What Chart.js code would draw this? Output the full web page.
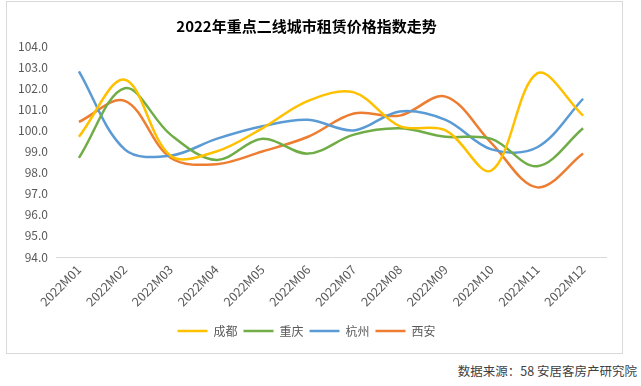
<!DOCTYPE html>
<html>
<head>
    <title>2022年重点二线城市租赁价格指数走势</title>
    <script src="https://cdn.jsdelivr.net/npm/chart.js"></script>
    <style>
        body { margin: 0; background: #fff; font-family: "Noto Sans CJK SC", sans-serif; }
        #frame { position: absolute; left: 6px; top: 1px; width: 615px; height: 351px; border: 1px solid #d9d9d9; }
        #source { position: absolute; right: 4px; top: 361px; font-size: 12.5px; color: #404040; }
    </style>
</head>
<body>
    <div id="frame"><canvas id="rentChart"></canvas></div>
    <div id="source">数据来源：58 安居客房产研究院</div>

    <script>
        const months = ['2022M01', '2022M02', '2022M03', '2022M04', '2022M05', '2022M06',
                        '2022M07', '2022M08', '2022M09', '2022M10', '2022M11', '2022M12'];
        const chengdu   = [99.7, 102.4, 98.8, 99.0, 100.1, 101.4, 101.8, 100.2, 100.0, 98.1, 102.7, 100.7];
        const chongqing = [98.7, 102.0, 99.8, 98.6, 99.6, 98.9, 99.8, 100.1, 99.7, 99.6, 98.3, 100.1];
        const hangzhou  = [102.8, 99.1, 98.8, 99.6, 100.2, 100.5, 100.0, 100.9, 100.5, 99.1, 99.2, 101.5];
        const xian      = [100.4, 101.4, 98.7, 98.4, 99.0, 99.7, 100.8, 100.7, 101.6, 99.4, 97.3, 98.9];

        const font = 'Noto Sans CJK SC';
        const series = [
            ['成都', chengdu, '#FFC000'],
            ['重庆', chongqing, '#70AD47'],
            ['杭州', hangzhou, '#5B9BD5'],
            ['西安', xian, '#ED7D31']
        ];

        const ctx = document.getElementById('rentChart').getContext('2d');
        new Chart(ctx, {
            type: 'line',
            data: {
                labels: months,
                datasets: series.map(([name, values, color]) => ({
                    label: name,
                    data: values,
                    borderColor: color,
                    backgroundColor: color,
                    borderWidth: 2.5,
                    tension: 0.35,
                    pointRadius: 0,
                    pointStyle: 'line'
                }))
            },
            options: {
                responsive: true,
                maintainAspectRatio: false,
                animation: false,
                layout: { padding: { left: 0, right: 16, bottom: 6 } },
                plugins: {
                    title: {
                        display: true,
                        text: '2022年重点二线城市租赁价格指数走势',
                        color: '#000',
                        font: { family: font, size: 15, weight: 'bold' },
                        padding: { top: 15, bottom: 11 }
                    },
                    legend: {
                        position: 'bottom',
                        labels: {
                            usePointStyle: true,
                            pointStyleWidth: 30,
                            color: '#595959',
                            font: { family: font, size: 12 },
                            padding: 6
                        }
                    },
                    tooltip: { enabled: false }
                },
                scales: {
                    x: {
                        offset: true,
                        grid: { display: false, drawTicks: false },
                        border: { display: true, color: '#d9d9d9', width: 1 },
                        ticks: {
                            color: '#595959',
                            font: { family: font, size: 12.5 },
                            minRotation: 45,
                            maxRotation: 45,
                            padding: 5
                        },
                        afterFit: scale => { scale.height = 62; }
                    },
                    y: {
                        min: 94,
                        max: 104,
                        grid: { display: false, drawTicks: false },
                        border: { display: false },
                        ticks: {
                            stepSize: 1,
                            color: '#595959',
                            font: { family: font, size: 12 },
                            padding: 8,
                            callback: v => v.toFixed(1)
                        },
                        afterFit: scale => { scale.width = 49; }
                    }
                }
            }
        });
    </script>
</body>
</html>
